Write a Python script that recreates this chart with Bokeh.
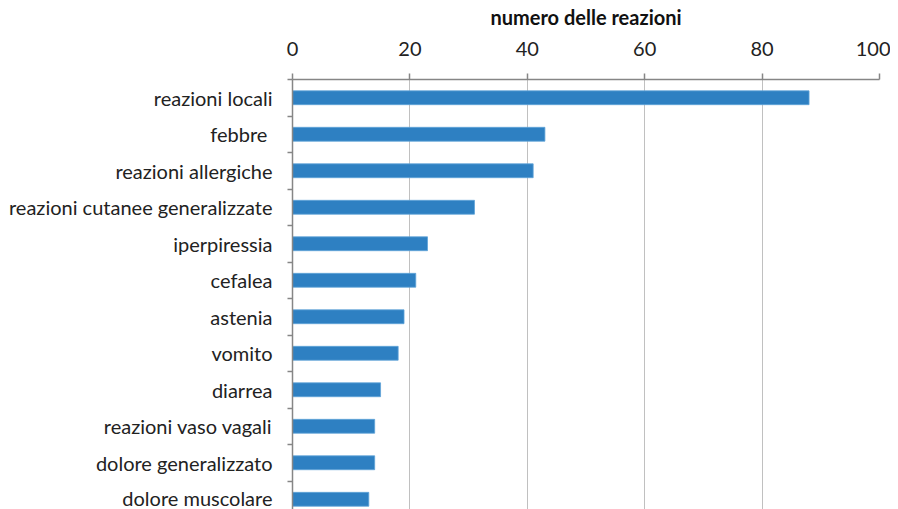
from bokeh.plotting import figure
from bokeh.models import Range1d, FixedTicker
from bokeh.embed import file_html
from bokeh.resources import INLINE

categories = ["reazioni locali", "febbre ", "reazioni allergiche",
              "reazioni cutanee generalizzate", "iperpiressia", "cefalea",
              "astenia", "vomito", "diarrea", "reazioni vaso vagali",
              "dolore generalizzato", "dolore muscolare"]
values = [88, 43, 41, 31, 23, 21, 19, 18, 15, 14, 14, 13]
x_ticks = [0, 20, 40, 60, 80, 100]

pos = list(range(len(categories)))
FONT = "Lato"

p = figure(width=890, height=509, output_backend="svg", toolbar_location=None,
           x_axis_location="above",
           x_range=Range1d(0, 100), y_range=Range1d(11.28, -0.5),
           min_border_left=292, min_border_right=11, min_border_top=79,
           min_border_bottom=0)
p.outline_line_color = None

p.hbar(y=pos, right=values, left=0, height=0.38, color="#2E80C2",
       line_color="#5FA3D8", line_width=0.8)

# x axis (top)
xa = p.xaxis[0]
xa.ticker = FixedTicker(ticks=x_ticks)
xa.axis_label = "numero delle reazioni"
xa.axis_label_text_font = FONT
xa.axis_label_text_font_style = "bold"
xa.axis_label_text_font_size = "20px"
xa.axis_label_text_color = "#111111"
xa.axis_label_standoff = 10
xa.major_label_text_font = FONT
xa.major_label_text_font_size = "20px"
xa.major_label_text_color = "#222222"
xa.major_label_standoff = 18
xa.axis_line_color = "#868686"
xa.axis_line_width = 1.5
xa.major_tick_line_color = "#868686"
xa.major_tick_line_width = 1.5
xa.major_tick_out = 6
xa.major_tick_in = 0
xa.minor_tick_line_color = None

# y axis (left)
ya = p.yaxis[0]
ya.ticker = FixedTicker(ticks=pos, minor_ticks=[i - 0.5 for i in range(len(categories) + 1)])
ya.major_label_overrides = {i: c for i, c in enumerate(categories)}
ya.major_label_text_font = FONT
ya.major_label_text_font_size = "20px"
ya.major_label_text_color = "#222222"
ya.major_label_standoff = 15
ya.axis_line_color = "#868686"
ya.axis_line_width = 1.5
ya.major_tick_line_color = None
ya.major_tick_out = 0
ya.major_tick_in = 0
ya.minor_tick_line_color = "#868686"
ya.minor_tick_line_width = 1.5
ya.minor_tick_out = 5
ya.minor_tick_in = 0

p.xgrid.grid_line_color = "#C0C0C0"
p.xgrid.grid_line_width = 1
p.ygrid.grid_line_color = None

open("out.html", "w").write(file_html(p, INLINE))
